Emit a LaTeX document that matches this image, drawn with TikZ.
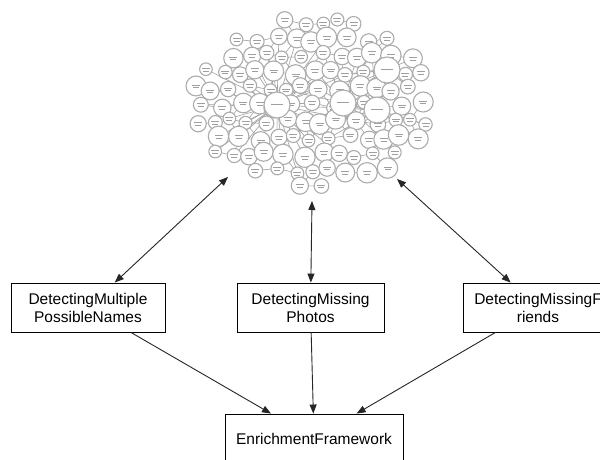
\documentclass[tikz,border=0pt]{standalone}
\usepackage{fontspec}
\setmainfont{Liberation Sans}
\usetikzlibrary{arrows.meta}

\newcommand{\taskfont}{\fontsize{15.5}{18}\selectfont}

% centre of one bubble of the network cloud (row, column)
\newcommand{\cloudpt}[2]{%
  \pgfmathsetmacro\px{312+((#2)-6.5)*18+mod((#1),2)*9+3.5*sin((#1)*131+(#2)*71)}%
  \pgfmathsetmacro\py{105+((#1)-5)*16.5+3*cos((#1)*53+(#2)*113)}%
  \pgfmathtruncatemacro\inside{((\px-312)/119)*((\px-312)/119)+((\py-104)/88)*((\py-104)/88)<1}%
}

\tikzset{
  taskbox/.style={draw, line width=0.9pt, minimum width=150pt, minimum height=49pt,
    align=center, inner sep=2pt, font=\taskfont},
  bubble/.style={draw=gray!65, fill=white, line width=1.1pt},
  edge/.style={draw=gray!75, line width=0.6pt},
  scribble/.style={draw=gray!75, line width=0.5pt},
  link/.style={-{Triangle[length=9pt,width=7pt]}, line width=0.9pt, black!85},
  twoway/.style={{Triangle[length=9pt,width=7pt]}-{Triangle[length=9pt,width=7pt]},
    line width=0.9pt, black!85},
}

\begin{document}
\begin{tikzpicture}[x=1pt, y=-1pt]
    \fill[white] (0,0) rectangle (600,460);
    \useasboundingbox (0,0) rectangle (600,460);

    % Network cloud: hubs
    \coordinate (hubA) at (277,105);
    \coordinate (hubB) at (343,103);
    \coordinate (hubC) at (387,70);
    \coordinate (hubD) at (377,110);

    % Network cloud: edges
    \foreach \r in {0,...,10}{
      \foreach \c in {0,...,13}{
        \cloudpt{\r}{\c}
        \ifnum\inside=1
          \let\ax\px \let\ay\py
          \pgfmathtruncatemacro\link{sin(\r*73+\c*151)>-0.3}
          \cloudpt{\r}{\c+1}
          \ifnum\inside=1 \ifnum\link=1 \draw[edge] (\ax,\ay) -- (\px,\py); \fi\fi
          \pgfmathtruncatemacro\link{cos(\r*41+\c*67)>0}
          \cloudpt{\r+1}{\c}
          \ifnum\inside=1 \ifnum\link=1 \draw[edge] (\ax,\ay) -- (\px,\py); \fi\fi
          \pgfmathtruncatemacro\spoke{and(veclen(\ax-277,\ay-105)<85, sin(\r*37+\c*97)>-0.2)}
          \ifnum\spoke=1 \draw[edge] (\ax,\ay) -- (hubA); \fi
          \pgfmathtruncatemacro\spoke{and(veclen(\ax-387,\ay-70)<70, sin(\r*59+\c*23)>0)}
          \ifnum\spoke=1 \draw[edge] (\ax,\ay) -- (hubC); \fi
          \pgfmathtruncatemacro\spoke{and(veclen(\ax-343,\ay-103)<60, cos(\r*83+\c*19)>0.3)}
          \ifnum\spoke=1 \draw[edge] (\ax,\ay) -- (hubB); \fi
          \pgfmathtruncatemacro\spoke{and(veclen(\ax-377,\ay-110)<65, cos(\r*29+\c*71)>0.2)}
          \ifnum\spoke=1 \draw[edge] (\ax,\ay) -- (hubD); \fi
        \fi
      }
    }

    % Network cloud: bubbles
    \foreach \r in {0,...,10}{
      \foreach \c in {0,...,13}{
        \cloudpt{\r}{\c}
        \ifnum\inside=1
          \pgfmathsetmacro\cr{8.3+2*sin(\r*211+\c*37)}
          \draw[bubble] (\px,\py) circle[radius=\cr];
          \draw[scribble] (\px-4,\py-1.2) -- (\px+4,\py-1.2)
                          (\px-3,\py+1.6) -- (\px+3,\py+1.6);
        \fi
      }
    }
    \foreach \h in {hubA,hubB,hubC,hubD}{
      \draw[bubble] (\h) circle[radius=13];
      \draw[scribble] ([xshift=-6pt,yshift=1pt]\h) -- ([xshift=6pt,yshift=1pt]\h);
    }

    % Arrow ends on the cloud
    \coordinate (netL) at (228,177);
    \coordinate (netM) at (312,201);
    \coordinate (netR) at (397,179);

    % Boxes
    \node[taskbox, minimum width=154pt] (multi) at (88,307.5) {DetectingMultiple\\PossibleNames};
    \node[taskbox, minimum width=147pt] (photos) at (310.5,307.5) {DetectingMissing\\Photos};
    \node[taskbox] (friends) at (538,307.5) {DetectingMissingF\\riends};
    \node[taskbox, minimum width=178pt] (enrich) at (314,438.5) {EnrichmentFramework};

    % Cloud <-> boxes
    \draw[twoway] (netL) -- (multi);
    \draw[twoway] (netM) -- (photos);
    \draw[twoway] (netR) -- (friends);

    % Boxes -> framework
    \draw[link] (multi) -- (enrich);
    \draw[link] (photos) -- (enrich);
    \draw[link] (friends) -- (enrich);
\end{tikzpicture}
\end{document}
